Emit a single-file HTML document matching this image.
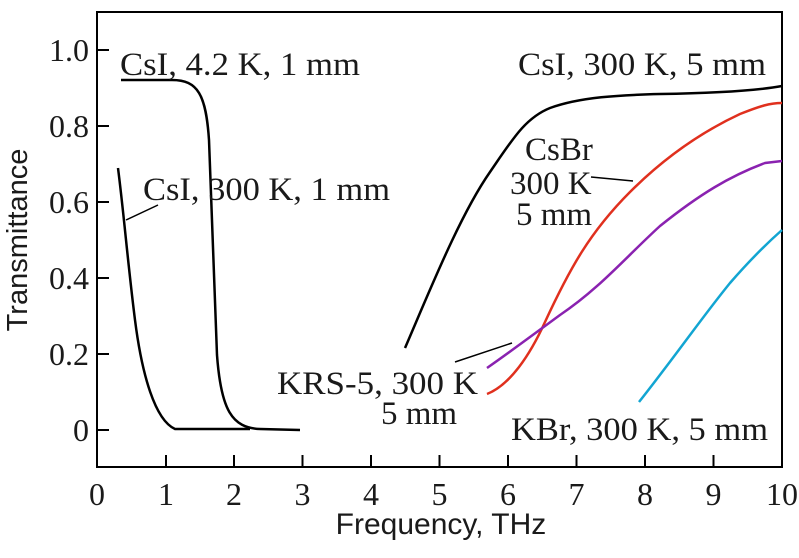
<!DOCTYPE html>
<html><head><style>body{margin:0;background:#fff}svg{display:block}</style></head><body>
<svg width="799" height="558" viewBox="0 0 799 558" xmlns="http://www.w3.org/2000/svg">
<rect x="97" y="12" width="685" height="455" fill="none" stroke="#000" stroke-width="2"/>
<g stroke="#000" stroke-width="2">
<line x1="97" y1="50" x2="109" y2="50"/><line x1="97" y1="126" x2="109" y2="126"/><line x1="97" y1="202" x2="109" y2="202"/><line x1="97" y1="278" x2="109" y2="278"/><line x1="97" y1="354" x2="109" y2="354"/><line x1="97" y1="430" x2="109" y2="430"/>
<line x1="166" y1="467" x2="166" y2="455"/><line x1="234" y1="467" x2="234" y2="455"/><line x1="302.5" y1="467" x2="302.5" y2="455"/><line x1="371" y1="467" x2="371" y2="455"/><line x1="439.5" y1="467" x2="439.5" y2="455"/><line x1="508" y1="467" x2="508" y2="455"/><line x1="576.5" y1="467" x2="576.5" y2="455"/><line x1="645" y1="467" x2="645" y2="455"/><line x1="713.5" y1="467" x2="713.5" y2="455"/>
</g>
<g font-family="Liberation Serif, serif" font-size="32" text-anchor="end" fill="#1a1a1a">
<text x="89" y="61">1.0</text><text x="89" y="137">0.8</text><text x="89" y="213">0.6</text><text x="89" y="289">0.4</text><text x="89" y="365">0.2</text><text x="89" y="441">0</text>
</g>
<g font-family="Liberation Serif, serif" font-size="32" text-anchor="middle" fill="#1a1a1a">
<text x="97" y="505">0</text><text x="166" y="505">1</text><text x="234" y="505">2</text><text x="302.5" y="505">3</text><text x="371" y="505">4</text><text x="439.5" y="505">5</text><text x="508" y="505">6</text><text x="576.5" y="505">7</text><text x="645" y="505">8</text><text x="713.5" y="505">9</text><text x="782" y="505">10</text>
</g>
<text x="441" y="534" font-family="Liberation Sans, sans-serif" font-size="30" text-anchor="middle" fill="#1a1a1a">Frequency, THz</text>
<text transform="translate(27,240) rotate(-90)" font-family="Liberation Sans, sans-serif" font-size="29" text-anchor="middle" fill="#1a1a1a">Transmittance</text>
<g fill="none" stroke-width="2.5">
<path d="M121 80 L172 80 C198 80 206 95 209 140 L217 355 C221 410 232 428 260 429 L300 430" stroke="#000"/>
<path d="M118 168 C124 215 128 265 135 320 C142 375 155 420 175 429 L250 429" stroke="#000"/>
<line x1="126" y1="220" x2="158" y2="205" stroke="#000" stroke-width="1.5"/>
<path d="M405 348 C430 290 460 215 490 172 C512 140 525 118 550 108 C580 97 620 95 660 94 C720 93 760 90 782 86" stroke="#000"/>
<path d="M487 394 C510 385 530 355 545 322 C570 268 590 232 630 192 C670 152 710 128 740 114 C760 106 770 103 782 103" stroke="#e0301e"/>
<path d="M487 368 C510 352 530 337 560 315 C600 288 625 258 660 226 C700 194 730 176 765 163 L782 161" stroke="#8a22b0"/>
<path d="M639 402 C680 350 700 320 730 283 C750 260 765 245 782 230" stroke="#12a5d2"/>
<line x1="591" y1="177" x2="633" y2="181" stroke="#000" stroke-width="1.5"/>
<line x1="455" y1="362" x2="512" y2="343" stroke="#000" stroke-width="1.5"/>
</g>
<g font-family="Liberation Serif, serif" font-size="33" fill="#1a1a1a">
<text x="120" y="75" textLength="240" lengthAdjust="spacingAndGlyphs">CsI, 4.2 K, 1 mm</text>
<text x="143" y="200" textLength="247" lengthAdjust="spacingAndGlyphs">CsI, 300 K, 1 mm</text>
<text x="518" y="75" textLength="248" lengthAdjust="spacingAndGlyphs">CsI, 300 K, 5 mm</text>
<text x="525" y="160">CsBr</text>
<text x="510" y="194">300 K</text>
<text x="516" y="225">5 mm</text>
<text x="277" y="394" textLength="201" lengthAdjust="spacingAndGlyphs">KRS-5, 300 K</text>
<text x="381" y="424">5 mm</text>
<text x="511" y="440" textLength="257" lengthAdjust="spacingAndGlyphs">KBr, 300 K, 5 mm</text>
</g>
</svg>
</body></html>
